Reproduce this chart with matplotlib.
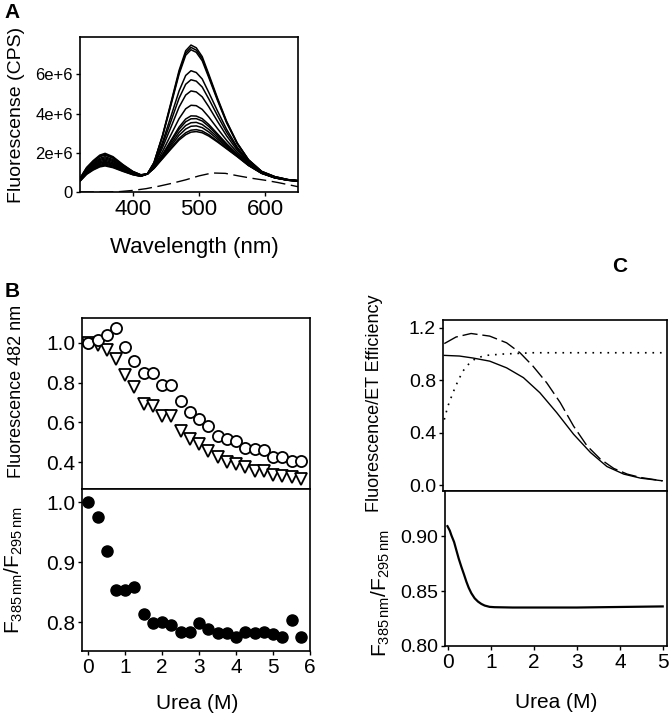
import matplotlib
matplotlib.use("Agg")
import matplotlib.pyplot as plt

plt.rcParams['font.family'] = ['Liberation Sans', 'DejaVu Sans']
plt.rcParams['mathtext.default'] = 'regular'

# ---- Panel A: emission spectra (values in units of 1e6 CPS)
wavelength = [320, 330, 340, 350, 358, 370, 385, 400, 412,
              422, 432, 445, 458, 470, 480, 488, 496, 505, 515, 528,
              542, 558, 575, 595, 615, 635, 650]
spectra = [
    [0.70, 1.25, 1.60, 1.88, 1.97, 1.80, 1.40, 1.05, 0.88, 0.92, 1.50, 2.90, 4.60, 6.20, 7.20, 7.49, 7.35, 6.90, 6.00, 4.80, 3.60, 2.50, 1.65, 1.05, 0.78, 0.63, 0.58],
    [0.69, 1.22, 1.56, 1.83, 1.92, 1.76, 1.37, 1.04, 0.87, 0.92, 1.49, 2.87, 4.54, 6.10, 7.08, 7.37, 7.23, 6.80, 5.91, 4.74, 3.56, 2.48, 1.64, 1.05, 0.78, 0.63, 0.58],
    [0.68, 1.20, 1.53, 1.80, 1.88, 1.72, 1.35, 1.03, 0.87, 0.92, 1.48, 2.84, 4.47, 6.01, 6.97, 7.25, 7.12, 6.69, 5.83, 4.68, 3.52, 2.46, 1.63, 1.04, 0.78, 0.63, 0.58],
    [0.66, 1.16, 1.47, 1.72, 1.80, 1.65, 1.31, 1.00, 0.86, 0.92, 1.41, 2.55, 3.89, 5.15, 5.94, 6.18, 6.09, 5.76, 5.07, 4.14, 3.19, 2.29, 1.56, 1.02, 0.76, 0.62, 0.57],
    [0.65, 1.12, 1.43, 1.66, 1.74, 1.60, 1.27, 0.99, 0.85, 0.92, 1.38, 2.42, 3.64, 4.78, 5.49, 5.72, 5.65, 5.35, 4.74, 3.90, 3.04, 2.22, 1.53, 1.01, 0.76, 0.62, 0.57],
    [0.63, 1.09, 1.38, 1.61, 1.68, 1.55, 1.24, 0.97, 0.84, 0.92, 1.34, 2.27, 3.33, 4.33, 4.94, 5.15, 5.10, 4.85, 4.34, 3.61, 2.86, 2.13, 1.49, 1.00, 0.75, 0.61, 0.57],
    [0.62, 1.06, 1.34, 1.55, 1.62, 1.49, 1.21, 0.96, 0.84, 0.92, 1.29, 2.07, 2.94, 3.74, 4.24, 4.42, 4.40, 4.21, 3.82, 3.24, 2.63, 2.02, 1.44, 0.98, 0.74, 0.61, 0.57],
    [0.60, 1.03, 1.29, 1.50, 1.56, 1.44, 1.18, 0.94, 0.83, 0.92, 1.26, 1.92, 2.65, 3.31, 3.72, 3.88, 3.87, 3.74, 3.44, 2.97, 2.46, 1.93, 1.41, 0.97, 0.73, 0.61, 0.56],
    [0.60, 1.01, 1.26, 1.46, 1.52, 1.41, 1.16, 0.93, 0.82, 0.92, 1.25, 1.88, 2.57, 3.20, 3.58, 3.73, 3.74, 3.62, 3.34, 2.90, 2.42, 1.91, 1.40, 0.97, 0.73, 0.60, 0.56],
    [0.58, 0.98, 1.23, 1.41, 1.47, 1.36, 1.13, 0.92, 0.82, 0.92, 1.23, 1.83, 2.46, 3.04, 3.39, 3.53, 3.55, 3.44, 3.19, 2.80, 2.35, 1.88, 1.38, 0.96, 0.73, 0.60, 0.56],
    [0.57, 0.95, 1.19, 1.36, 1.42, 1.32, 1.10, 0.90, 0.81, 0.92, 1.22, 1.78, 2.36, 2.89, 3.21, 3.35, 3.37, 3.28, 3.06, 2.70, 2.30, 1.85, 1.37, 0.96, 0.72, 0.60, 0.56],
    [0.56, 0.92, 1.15, 1.32, 1.37, 1.27, 1.07, 0.89, 0.80, 0.92, 1.21, 1.73, 2.26, 2.73, 3.02, 3.15, 3.18, 3.11, 2.92, 2.60, 2.23, 1.82, 1.36, 0.95, 0.72, 0.60, 0.56],
    [0.55, 0.90, 1.12, 1.28, 1.33, 1.24, 1.05, 0.88, 0.80, 0.92, 1.20, 1.70, 2.20, 2.65, 2.92, 3.05, 3.08, 3.02, 2.85, 2.55, 2.20, 1.80, 1.35, 0.95, 0.72, 0.60, 0.56],
]
dash_wl = [320, 340, 360, 380, 400, 420, 440, 460, 480, 500, 520, 540, 560, 580, 600, 620, 640, 650]
dash_val = [0.0, 0.0, 0.0, 0.02, 0.08, 0.17, 0.30, 0.45, 0.62, 0.82, 0.97, 0.95, 0.82, 0.70, 0.60, 0.48, 0.34, 0.27]

# ---- Panel B: urea titration points
urea_b = [0, 0.25, 0.5, 0.75, 1.0, 1.25, 1.5, 1.75, 2.0, 2.25, 2.5, 2.75,
          3.0, 3.25, 3.5, 3.75, 4.0, 4.25, 4.5, 4.75, 5.0, 5.25, 5.5, 5.75]
fl_circle = [1.00, 1.013, 1.04, 1.075, 0.98, 0.908, 0.85, 0.847, 0.787, 0.787, 0.708, 0.653,
             0.617, 0.58, 0.533, 0.517, 0.508, 0.47, 0.467, 0.463, 0.425, 0.425, 0.405, 0.405]
fl_triangle = [1.00, 0.99, 0.963, 0.917, 0.838, 0.778, 0.692, 0.68, 0.633, 0.633, 0.558, 0.517,
               0.492, 0.458, 0.425, 0.403, 0.392, 0.375, 0.358, 0.358, 0.333, 0.33, 0.325, 0.313]
ratio_b = [1.00, 0.975, 0.919, 0.853, 0.853, 0.858, 0.814, 0.799, 0.80, 0.796, 0.783, 0.783,
           0.799, 0.789, 0.782, 0.782, 0.775, 0.783, 0.782, 0.783, 0.78, 0.775, 0.803, 0.776]

# ---- Panel C: simulated curves
c_solid_x = [-0.05, 0.3, 0.61, 1.0, 1.39, 1.78, 2.16, 2.55, 2.94, 3.33, 3.71, 4.1, 4.49, 4.99]
c_solid_y = [0.99, 0.985, 0.97, 0.946, 0.895, 0.82, 0.705, 0.553, 0.388, 0.249, 0.142, 0.084, 0.053, 0.033]
c_dash_x = [-0.05, 0.22, 0.57, 1.0, 1.39, 1.7, 2.0, 2.32, 2.63, 2.94, 3.25, 3.56, 3.87, 4.18, 4.49, 4.99]
c_dash_y = [1.08, 1.13, 1.157, 1.137, 1.086, 1.01, 0.908, 0.78, 0.63, 0.45, 0.30, 0.198, 0.127, 0.084, 0.058, 0.033]
c_dot_x = [-0.05, 0.03, 0.15, 0.26, 0.38, 0.53, 0.69, 0.92, 1.3, 2.0, 3.0, 4.0, 5.0]
c_dot_y = [0.50, 0.60, 0.705, 0.79, 0.87, 0.93, 0.97, 0.99, 1.0, 1.01, 1.01, 1.01, 1.01]
c_ratio_x = [-0.023, 0.031, 0.07, 0.132, 0.186, 0.24, 0.302, 0.364, 0.419, 0.473, 0.535,
             0.612, 0.69, 0.767, 0.845, 0.961, 1.078, 1.5, 2.0, 3.0, 4.0, 5.0]
c_ratio_y = [0.909, 0.905, 0.9006, 0.8946, 0.887, 0.8795, 0.872, 0.865, 0.8585, 0.853, 0.848,
             0.8434, 0.8404, 0.8383, 0.8368, 0.8356, 0.8353, 0.835, 0.835, 0.835, 0.8355, 0.836]

W, H = 671, 719
fig = plt.figure(figsize=(W / 100, H / 100), dpi=100)


def box(l, t, r, b):
    return [l / W, 1 - b / H, (r - l) / W, (b - t) / H]


def style(ax, fs=14):
    for s in ax.spines.values():
        s.set_linewidth(1.2)
    ax.tick_params(direction='out', length=3, width=1, labelsize=fs, pad=2)


# Panel A
axA = fig.add_axes(box(80, 37, 298, 192))
style(axA)
for s in spectra:
    axA.plot(wavelength, [v * 1e6 for v in s], color='black', lw=1.1)
axA.plot(dash_wl, [v * 1e6 for v in dash_val], color='black', lw=1.0, dashes=(10, 4))
axA.set_xlim(320, 650)
axA.set_ylim(0, 7.9e6)
axA.set_xticks([400, 500, 600])
axA.set_yticks([0, 2e6, 4e6, 6e6])
axA.set_yticklabels(['0', '2e+6', '4e+6', '6e+6'], fontsize=12)
axA.tick_params(axis='x', labelsize=16)
axA.set_xlabel('Wavelength (nm)', fontsize=16)
axA.set_ylabel('Fluorescense (CPS)', fontsize=14)
axA.xaxis.set_label_coords(0.523, -0.29)
axA.yaxis.set_label_coords(-0.252, 0.5)

# Panel B upper
axB1 = fig.add_axes(box(82, 318, 310, 489))
style(axB1, 15)
axB1.plot(urea_b, fl_triangle, 'v', mfc='white', mec='black', ms=8, mew=1.3, ls='none')
axB1.plot(urea_b, fl_circle, 'o', mfc='white', mec='black', ms=8, mew=1.3, ls='none')
axB1.set_xlim(-0.17, 6)
axB1.set_ylim(0.265, 1.125)
axB1.set_yticks([0.4, 0.6, 0.8, 1.0])
axB1.set_xticks([])
axB1.set_ylabel('Fluorescence 482 nm', fontsize=13)
axB1.yaxis.set_label_coords(-0.25, 0.57)

# Panel B lower
axB2 = fig.add_axes(box(82, 489, 310, 651))
style(axB2, 15)
axB2.plot(urea_b, ratio_b, 'o', color='black', ms=8, ls='none')
axB2.set_xlim(-0.17, 6)
axB2.set_ylim(0.752, 1.022)
axB2.set_yticks([0.8, 0.9, 1.0])
axB2.set_xticks([0, 1, 2, 3, 4, 5, 6])
axB2.set_xlabel('Urea (M)', fontsize=15)
axB2.set_ylabel('F$_{385\\,nm}$/F$_{295\\,nm}$', fontsize=15)
axB2.xaxis.set_label_coords(0.504, -0.265)
axB2.yaxis.set_label_coords(-0.25, 0.5)

# Panel C upper
axC1 = fig.add_axes(box(443, 320, 667, 491))
style(axC1, 14)
axC1.plot(c_solid_x, c_solid_y, color='black', lw=1.0)
axC1.plot(c_dash_x, c_dash_y, color='black', lw=1.0, dashes=(11, 3.5))
axC1.plot(c_dot_x, c_dot_y, color='black', lw=1.2, dashes=(1, 3.5))
axC1.set_xlim(-0.08, 5.1)
axC1.set_ylim(-0.045, 1.26)
axC1.set_yticks([0.0, 0.4, 0.8, 1.2])
axC1.set_yticklabels(['0.0', '0.4', '0.8', '1.2'])
axC1.set_xticks([])
axC1.set_ylabel('Fluorescence/ET Efficiency', fontsize=13)
axC1.yaxis.set_label_coords(-0.268, 0.515)

# Panel C lower
axC2 = fig.add_axes(box(445, 491, 667, 646))
style(axC2, 14)
axC2.plot(c_ratio_x, c_ratio_y, color='black', lw=1.6)
axC2.set_xlim(-0.08, 5.1)
axC2.set_ylim(0.80, 0.941)
axC2.set_yticks([0.80, 0.85, 0.90])
axC2.set_yticklabels(['0.80', '0.85', '0.90'])
axC2.set_xticks([0, 1, 2, 3, 4, 5])
axC2.tick_params(axis='x', labelsize=15)
axC2.set_xlabel('Urea (M)', fontsize=15)
axC2.set_ylabel('F$_{385\\,nm}$/F$_{295\\,nm}$', fontsize=15)
axC2.xaxis.set_label_coords(0.5, -0.303)
axC2.yaxis.set_label_coords(-0.239, 0.34)

# panel letters
fig.text(12 / W, 1 - 13 / H, 'A', fontsize=15, fontweight='bold', ha='center', va='center')
fig.text(12 / W, 1 - 291 / H, 'B', fontsize=15, fontweight='bold', ha='center', va='center')
fig.text(620 / W, 1 - 266 / H, 'C', fontsize=15, fontweight='bold', ha='center', va='center')

fig.savefig('out.png', dpi=100)
